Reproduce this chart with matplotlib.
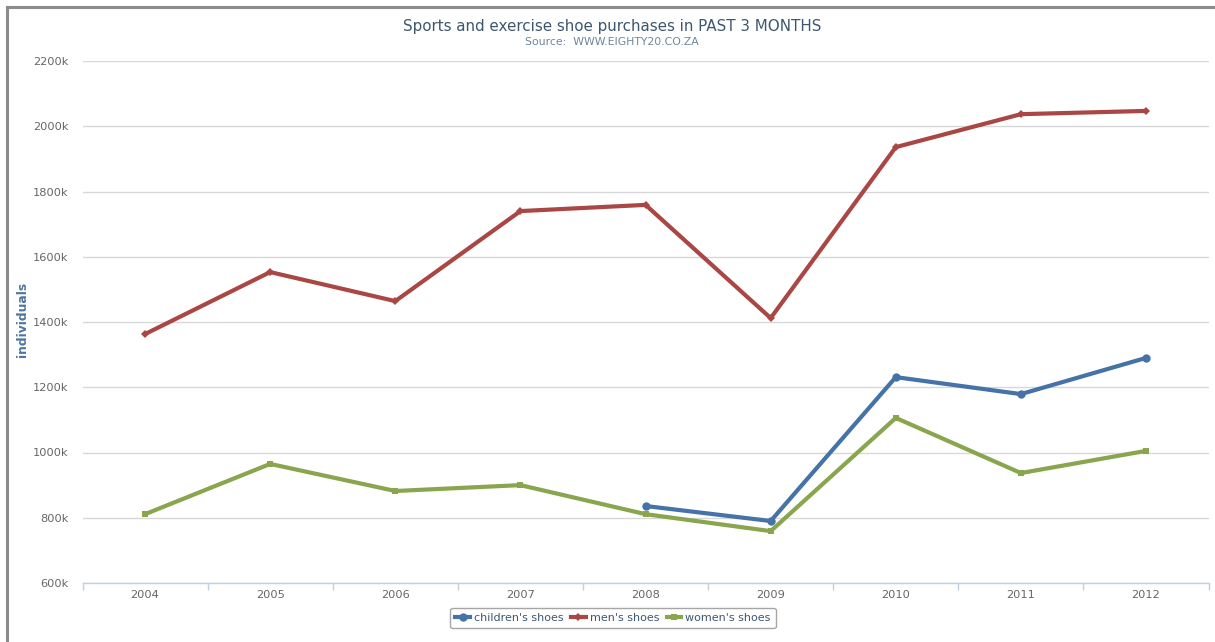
import matplotlib
matplotlib.use("Agg")
import matplotlib.pyplot as plt
from matplotlib.lines import Line2D
from matplotlib.ticker import FuncFormatter, FixedLocator
import numpy as np

years = ["2004", "2005", "2006", "2007", "2008", "2009", "2010", "2011", "2012"]
children = [None, None, None, None, 836, 790, 1231, 1179, 1290]
men = [1363, 1553, 1464, 1740, 1759, 1412, 1936, 2037, 2047]
women = [811, 965, 882, 900, 811, 759, 1106, 937, 1005]
y_ticks = [600, 800, 1000, 1200, 1400, 1600, 1800, 2000, 2200]

series = [
    ("children's shoes", children, "#4572A7", "o", 6.0),
    ("men's shoes", men, "#AA4643", "D", 4.5),
    ("women's shoes", women, "#89A54E", "s", 5.0),
]

plt.rcParams["font.family"] = ["DejaVu Sans"]

fig = plt.figure(figsize=(12.15, 6.42), dpi=100)
ax = fig.add_axes([82.5 / 1215, 59 / 642, (1208.6 - 82.5) / 1215, 522 / 642])

x = np.arange(len(years))
for name, vals, color, marker, ms in series:
    v = np.array([np.nan if val is None else val for val in vals], dtype=float)
    ax.plot(x, v, color=color, lw=3.0, marker=marker, ms=ms,
            markeredgewidth=0, solid_joinstyle="round", solid_capstyle="round",
            zorder=3, clip_on=False)

ax.set_xlim(-0.5, len(years) - 0.5)
ax.set_ylim(600, 2200)
ax.yaxis.set_major_locator(FixedLocator(y_ticks))
ax.yaxis.set_major_formatter(FuncFormatter(lambda v, p: f"{int(v)}k"))
ax.grid(axis="y", color="#D8D8D8", lw=1.0, zorder=0)
ax.set_xticks(x)
ax.set_xticklabels(years)
ax.set_xticks(np.arange(-0.5, len(years)), minor=True)

for s in ["top", "right", "left"]:
    ax.spines[s].set_visible(False)
ax.spines["bottom"].set_color("#C0D0E0")
ax.spines["bottom"].set_linewidth(1.0)
ax.spines["bottom"].set_zorder(1)

ax.tick_params(axis="y", length=0, pad=10, labelsize=8.2, labelcolor="#666666")
ax.tick_params(axis="x", which="major", length=0, pad=5, labelsize=8.2, labelcolor="#666666")
ax.tick_params(axis="x", which="minor", length=5, width=1, color="#C0D0E0")

ax.set_ylabel("individuals", color="#4D759E", fontsize=8.8, fontweight="bold")
ax.yaxis.set_label_coords((29 - 82.5) / 1126, 0.504)

fig.text(0.504, 1 - 26 / 642, "Sports and exercise shoe purchases in PAST 3 MONTHS",
         ha="center", va="center", fontsize=10.9, color="#3E576F")
fig.text(0.504, 1 - 42 / 642, "Source:  WWW.EIGHTY20.CO.ZA",
         ha="center", va="center", fontsize=7.8, color="#6D869F")

handles = [Line2D([0], [0], color=c, lw=3.0, marker=m, ms=ms, markeredgewidth=0)
           for _, _, c, m, ms in series]
labels = [s[0] for s in series]
leg = fig.legend(handles, labels, loc="center", bbox_to_anchor=(613 / 1215, 1 - 618 / 642),
                 ncol=3, frameon=True, fontsize=8.0, handlelength=1.3, handletextpad=0.35,
                 columnspacing=0.7, borderpad=0.45, fancybox=True)
leg.get_frame().set_edgecolor("#909090")
leg.get_frame().set_linewidth(1.0)
for t in leg.get_texts():
    t.set_color("#3E576F")

# outer frame edges along the top and left
fig.add_artist(Line2D([7 / 1215, 1], [1 - 7 / 642, 1 - 7 / 642], color="#8C8C8C", lw=2.2,
                      transform=fig.transFigure))
fig.add_artist(Line2D([7 / 1215, 7 / 1215], [0, 1 - 7 / 642], color="#8C8C8C", lw=2.2,
                      transform=fig.transFigure))

fig.savefig("out.png", dpi=100, facecolor="white")
